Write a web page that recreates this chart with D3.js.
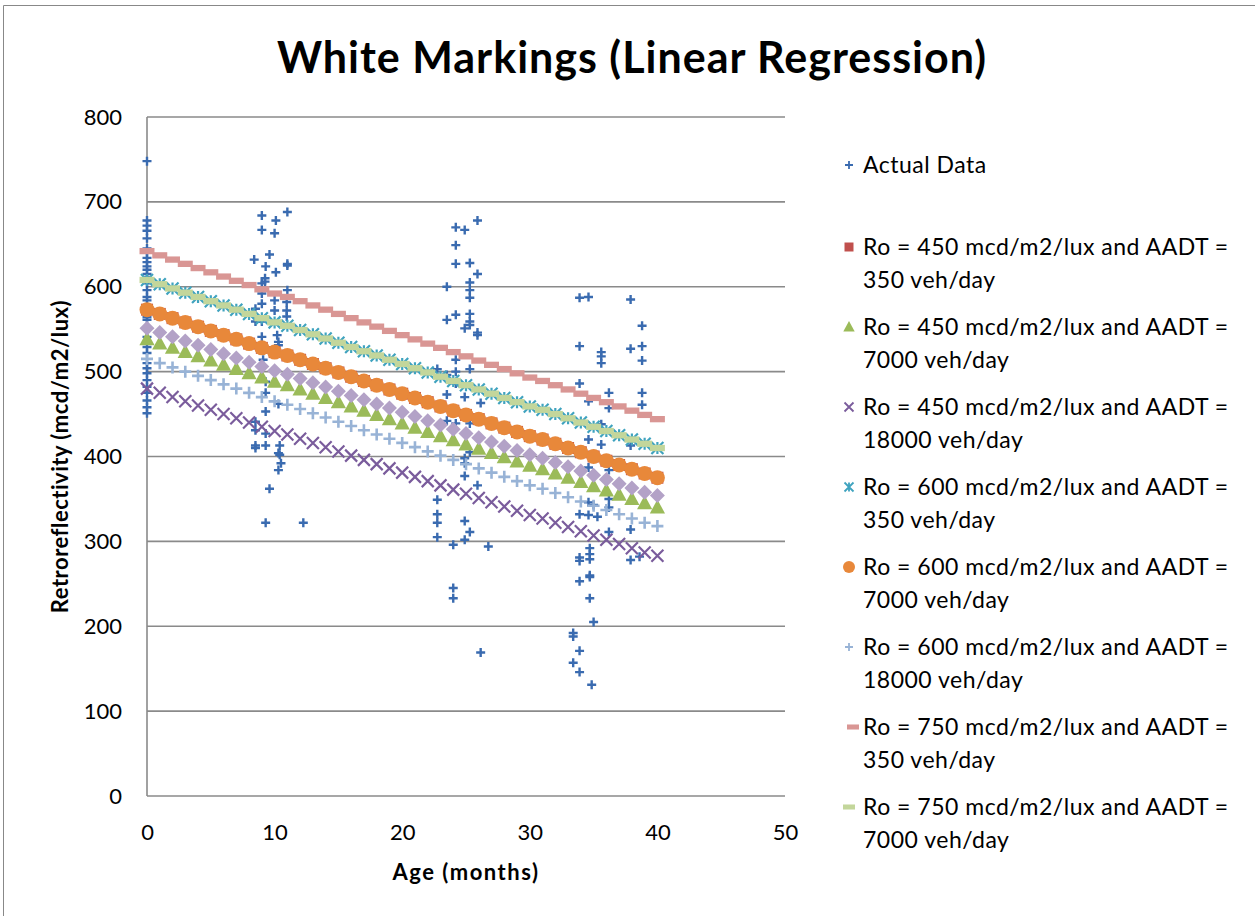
<!DOCTYPE html>
<html>
<head>
<meta charset="utf-8">
<script src="https://cdn.jsdelivr.net/npm/d3@7"></script>
<style>
  body { margin: 0; background: #fff; }
  text { font-family: Lato, "Open Sans", sans-serif; fill: #000; }
</style>
</head>
<body>
<div id="chart"></div>
<script>
// age in months for the regression series
var ages = [0,1,2,3,4,5,6,7,8,9,10,11,12,13,14,15,16,17,18,19,20,
            21,22,23,24,25,26,27,28,29,30,31,32,33,34,35,36,37,38,39,40];

// regression curves
var r450_350 = [573,568,563,558,553,548,543,538,533,528,523,519,514,509,504,499,494,489,484,479,474,469,464,459,454,449,444,439,434,429,424,420,415,410,405,400,395,390,385,380,375];
var r450_7000 = [538,533,528,523,518,513,508,503,498,493,488,484,479,474,469,464,459,454,449,444,439,434,429,424,419,414,409,404,399,394,389,385,380,375,370,365,360,355,350,345,340];
var r450_18000 = [480,475,470,465,460,455,450,445,440,435,430,426,421,416,411,406,401,396,391,386,381,376,371,366,361,356,351,346,341,336,331,327,322,317,312,307,302,297,292,287,283];
var r600_350 = [608,603,598,593,588,583,578,573,568,563,558,554,549,544,539,534,529,524,519,514,509,504,499,494,489,484,479,474,469,464,459,455,450,445,440,435,430,425,420,415,410];
var r600_7000 = [573,568,563,558,553,548,543,538,533,528,523,519,514,509,504,499,494,489,484,479,474,469,464,459,454,449,444,439,434,429,424,420,415,410,405,400,395,390,385,380,375];
var r600_18000 = [515,510,505,500,495,490,485,480,475,470,465,461,456,451,446,441,436,431,426,421,416,411,406,401,396,391,386,381,376,371,366,362,357,352,347,342,337,332,327,322,318];
var r750_350 = [642,637,632,627,622,617,612,607,602,597,592,588,583,578,573,568,563,558,553,548,543,538,533,528,523,518,513,508,503,498,493,489,484,479,474,469,464,459,454,449,444];
var r750_7000 = [608,603,598,593,588,583,578,573,568,563,558,554,549,544,539,534,529,524,519,514,509,504,499,494,489,484,479,474,469,464,459,455,450,445,440,435,430,425,420,415,410];
var r750_18000 = [551,546,541,536,531,526,521,516,511,506,501,497,492,487,482,477,472,467,462,457,452,447,442,437,432,427,422,417,412,407,402,398,393,388,383,378,373,368,363,358,354];

// measured points
var actualAge = [0,0,0,0,0,0,0,0,0,0,0,0,0,0,0,0,0,0,0,0,0,0,0,0,0,0,0,0,0,0,0,0,0,0,
  9.0,10.1,11.0,9.0,10.0,8.4,9.6,9.3,10.1,11.0,11.0,9.25,9.25,9.0,9.0,11.0,10.0,10.0,9.0,10.95,10.95,10.95,8.5,8.5,9.0,9.0,10.2,10.3,10.3,9.1,9.3,9.3,10.3,8.5,8.5,9.3,9.3,8.5,8.5,9.3,10.4,10.3,10.4,10.5,10.3,9.6,9.3,12.25,
  24.2,24.9,25.9,24.2,24.2,25.3,25.9,23.5,25.3,25.3,25.3,23.5,24.2,25.3,25.3,24.9,25.3,25.9,25.9,24.2,24.2,25.3,22.75,23.5,24.2,23.5,24.9,26.15,23.5,24.2,25.3,24.9,24.9,25.3,24.9,25.9,22.75,22.75,22.75,24.9,25.3,24.9,22.75,24.0,26.75,24.0,24.0,26.15,
  33.9,34.6,37.9,38.8,33.9,35.6,35.6,35.6,37.9,38.8,38.8,33.9,34.6,36.2,36.2,38.8,38.8,34.6,35.6,35.6,37.9,34.6,36.2,34.6,35.0,36.2,36.2,35.3,33.9,34.6,36.2,37.9,34.7,34.7,34.7,33.9,33.9,37.9,38.6,34.7,34.7,33.9,34.7,35.0,33.4,33.4,33.9,33.4,33.9,34.85];
var actualValue = [748,678,672,666,657,645,640,634,629,624,620,615,611,604,596,588,584,576,572,564,561,552,541,529,522,510,504,498,490,482,475,466,458,451,
  684,678,688,667,663,632,638,624,617,627,625,610,606,604,592,596,584,572,580,582,572,565,574,559,559,541,543,535,531,514,488,475,462,441,431,453,427,413,410,413,413,404,402,392,384,362,322,322,
  670,667,678,649,627,628,615,600,605,596,587,561,567,568,559,551,555,546,543,514,500,503,503,496,486,473,470,463,442,439,439,398,392,405,377,366,349,332,322,324,311,302,305,296,294,245,233,169,
  587,588,585,554,530,523,518,510,527,530,513,486,465,475,457,475,461,420,438,414,413,387,384,346,343,350,340,329,332,331,311,314,292,285,279,281,277,278,282,260,258,253,233,205,192,188,171,157,146,131];

var seriesNames = [
  "Ro = 450 mcd/m2/lux and AADT = 350 veh/day",
  "Ro = 450 mcd/m2/lux and AADT = 7000 veh/day",
  "Ro = 450 mcd/m2/lux and AADT = 18000 veh/day",
  "Ro = 600 mcd/m2/lux and AADT = 350 veh/day",
  "Ro = 600 mcd/m2/lux and AADT = 7000 veh/day",
  "Ro = 600 mcd/m2/lux and AADT = 18000 veh/day",
  "Ro = 750 mcd/m2/lux and AADT = 350 veh/day",
  "Ro = 750 mcd/m2/lux and AADT = 7000 veh/day",
  "Ro = 750 mcd/m2/lux and AADT = 18000 veh/day"
];
var seriesValues = [r450_350, r450_7000, r450_18000, r600_350, r600_7000, r600_18000, r750_350, r750_7000, r750_18000];
var seriesColors = ["#c0504d", "#9bbb59", "#7a5c9c", "#3fa3bf", "#e8883a", "#98b3d6", "#d99694", "#c3d69b", "#b3a2c7"];
var seriesMarkers = ["square", "triangle", "x", "star", "circle", "plus", "dash", "dash", "diamond"];

var yTicks = [0,100,200,300,400,500,600,700,800];
var xTicks = [0,10,20,30,40,50];

var width = 1255, height = 916;

var svg = d3.select("#chart").append("svg")
    .attr("width", width)
    .attr("height", height);

// chart border (runs off the right and bottom)
svg.append("path")
    .attr("d", "M3.5," + (height + 5) + "V5.5H" + (width + 5))
    .attr("fill", "none")
    .attr("stroke", "#888")
    .attr("stroke-width", 1);

var x = d3.scaleLinear().domain([0, 50]).range([147, 785]);
var y = d3.scaleLinear().domain([0, 800]).range([796, 117]);

// gridlines
svg.append("g").selectAll("line")
    .data(yTicks)
    .enter()
    .append("line")
    .attr("x1", x(0)).attr("x2", x(50))
    .attr("y1", function (d) { return y(d); })
    .attr("y2", function (d) { return y(d); })
    .attr("stroke", "#8a8a8a")
    .attr("stroke-width", 1.6);

svg.append("line")
    .attr("x1", x(0)).attr("x2", x(0))
    .attr("y1", y(800)).attr("y2", y(0))
    .attr("stroke", "#8a8a8a")
    .attr("stroke-width", 1.6);

// tick labels
var yAxis = d3.axisLeft(y).tickValues(yTicks).tickSize(0).tickPadding(25);
svg.append("g")
    .attr("transform", "translate(" + x(0) + ",0)")
    .call(yAxis)
    .call(function (g) { g.select(".domain").remove(); })
    .selectAll("text")
    .style("font-family", "Lato, sans-serif")
    .style("font-size", "22px")
    .attr("fill", "#000");

var xAxis = d3.axisBottom(x).tickValues(xTicks).tickSize(0).tickPadding(28);
svg.append("g")
    .attr("transform", "translate(0," + y(0) + ")")
    .call(xAxis)
    .call(function (g) { g.select(".domain").remove(); })
    .selectAll("text")
    .style("font-family", "Lato, sans-serif")
    .style("font-size", "22px")
    .attr("fill", "#000");

// marker shapes
function markerPath(type, s) {
    if (type == "plus") return "M" + (-s) + ",0H" + s + "M0," + (-s) + "V" + s;
    if (type == "x") return "M" + (-s) + "," + (-s) + "L" + s + "," + s + "M" + (-s) + "," + s + "L" + s + "," + (-s);
    if (type == "star") return "M" + (-s) + "," + (-s) + "L" + s + "," + s + "M" + (-s) + "," + s + "L" + s + "," + (-s) + "M0," + (-s) + "V" + s;
    if (type == "square") return "M" + (-s) + "," + (-s) + "h" + (2 * s) + "v" + (2 * s) + "h" + (-2 * s) + "Z";
    if (type == "dash") return "M" + (-s) + "," + (-s * 0.42) + "h" + (2 * s) + "v" + (s * 0.84) + "h" + (-2 * s) + "Z";
    if (type == "diamond") return "M0," + (-s) + "L" + s + ",0L0," + s + "L" + (-s) + ",0Z";
    if (type == "triangle") return "M0," + (-s) + "L" + (s * 0.95) + "," + (s * 0.75) + "L" + (-s * 0.95) + "," + (s * 0.75) + "Z";
    if (type == "circle") return d3.arc()({innerRadius: 0, outerRadius: s, startAngle: 0, endAngle: 2 * Math.PI});
    return "";
}
function isStroke(type) { return type == "plus" || type == "x" || type == "star"; }

var plotSize = {square: 6, triangle: 8, x: 6, star: 6, circle: 7.5, plus: 6, dash: 7.5, diamond: 7.5};

// actual data
var actual = actualAge.map(function (a, i) { return {age: a, value: actualValue[i]}; });
svg.append("g").selectAll("path")
    .data(actual)
    .enter()
    .append("path")
    .attr("transform", function (d) { return "translate(" + x(d.age) + "," + y(d.value) + ")"; })
    .attr("d", markerPath("plus", 4.5))
    .attr("fill", "none")
    .attr("stroke", "#3a6bb0")
    .attr("stroke-width", 2.4);

// regression series
seriesValues.forEach(function (vals, k) {
    var type = seriesMarkers[k];
    var g = svg.append("g");
    g.selectAll("path")
        .data(ages.map(function (a, i) { return {age: a, value: vals[i]}; }))
        .enter()
        .append("path")
        .attr("transform", function (d) { return "translate(" + x(d.age) + "," + y(d.value) + ")"; })
        .attr("d", markerPath(type, plotSize[type]))
        .attr("fill", isStroke(type) ? "none" : seriesColors[k])
        .attr("stroke", isStroke(type) ? seriesColors[k] : "none")
        .attr("stroke-width", type == "plus" ? 2.6 : 2.2);
});

// title
svg.append("text")
    .attr("x", 632)
    .attr("y", 73)
    .attr("text-anchor", "middle")
    .style("font-size", "43px")
    .style("font-weight", "bold")
    .style("letter-spacing", "1px")
    .text("White Markings (Linear Regression)");

// axis titles
svg.append("text")
    .attr("x", x(25))
    .attr("y", 880)
    .attr("text-anchor", "middle")
    .style("font-size", "22px")
    .style("font-weight", "bold")
    .style("letter-spacing", "1.5px")
    .text("Age (months)");

svg.append("text")
    .attr("transform", "translate(68," + y(400) + ") rotate(-90)")
    .attr("text-anchor", "middle")
    .style("font-size", "22px")
    .style("font-weight", "bold")
    .style("letter-spacing", "0.5px")
    .text("Retroreflectivity (mcd/m2/lux)");

// legend (last entry is cut off in the original)
var legendItems = [{name: "Actual Data", type: "plus", color: "#3a6bb0", y: 165}];
for (var k = 0; k < 8; k++) {
    legendItems.push({name: seriesNames[k], type: seriesMarkers[k], color: seriesColors[k], y: 247 + k * 80});
}

var legend = svg.append("g");
legendItems.forEach(function (it, i) {
    var sz = {plus: 4, square: 4.5, triangle: 6, x: 4.5, star: 4.5, circle: 6, dash: 6, diamond: 5}[it.type];
    var mx = (it.type == "dash" && i == 7) ? 853 : 849;
    legend.append("path")
        .attr("transform", "translate(" + mx + "," + it.y + ")")
        .attr("d", markerPath(it.type, sz))
        .attr("fill", isStroke(it.type) ? "none" : it.color)
        .attr("stroke", isStroke(it.type) ? it.color : "none")
        .attr("stroke-width", 1.8);
    var lines = it.name.indexOf("AADT = ") > 0 ? [it.name.split("AADT = ")[0] + "AADT =", it.name.split("AADT = ")[1]] : [it.name];
    lines.forEach(function (ln, j) {
        legend.append("text")
            .attr("x", 863)
            .attr("y", it.y + 8 + j * 33)
            .style("font-size", "23px")
            .style("letter-spacing", "0.5px")
            .text(ln);
    });
});
</script>
</body>
</html>
